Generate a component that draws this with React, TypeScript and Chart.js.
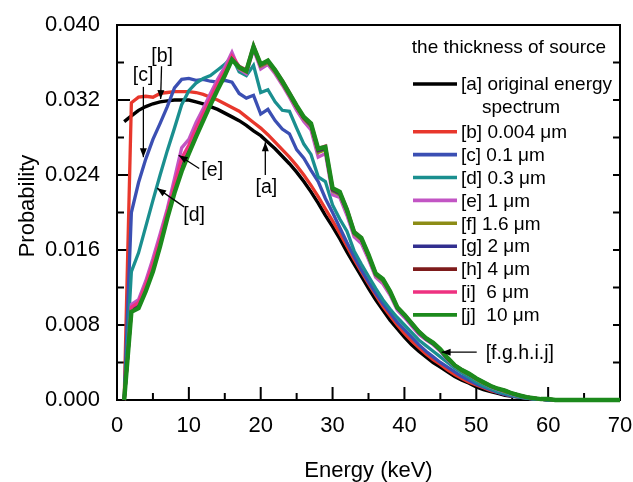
import React, { useEffect, useRef } from 'react';
import { Chart, registerables } from 'chart.js';

Chart.register(...registerables);

const FONT = '"Liberation Sans", Arial, Helvetica, sans-serif';

// Energy (keV)
const energies = [
  1, 2, 3, 4, 5, 6, 7, 8, 9, 10,
  11, 12, 13, 14, 15, 16, 17, 18, 19, 20,
  21, 22, 23, 24, 25, 26, 27, 28, 29, 30,
  31, 32, 33, 34, 35, 36, 37, 38, 39, 40,
  41, 42, 43, 44, 45, 46, 47, 48, 49, 50,
  51, 52, 53, 54, 55, 56, 57, 58, 59, 60,
  61, 62, 63, 64, 65, 66, 67, 68, 69, 70,
];

// [a] original energy spectrum
const seriesA = [
  0.0297, 0.0303, 0.0309, 0.0313, 0.0316, 0.0318, 0.0319, 0.0320, 0.0320, 0.0320,
  0.0318, 0.0316, 0.0313, 0.0310, 0.0306, 0.0302, 0.0298, 0.0293, 0.0287, 0.0282,
  0.0275, 0.0268, 0.0260, 0.0252, 0.0243, 0.0233, 0.0222, 0.0210, 0.0197, 0.0185,
  0.0172, 0.0158, 0.0145, 0.0132, 0.0119, 0.0107, 0.0096, 0.0085, 0.0076, 0.0067,
  0.0059, 0.0052, 0.0046, 0.0040, 0.0035, 0.0030, 0.0025, 0.0021, 0.0018, 0.0014,
  0.0011, 0.0009, 0.0007, 0.0005, 0.0004, 0.0003, 0.0002, 0.0001, 0.0001, 0,
  0, 0, 0, 0, 0, 0, 0, 0, 0, 0,
];
// [b] 0.004 um
const seriesB = [
  0, 0.0317, 0.0323, 0.0324, 0.0323, 0.0327, 0.0328, 0.0329, 0.0329, 0.0329,
  0.0328, 0.0326, 0.0323, 0.0320, 0.0316, 0.0312, 0.0308, 0.0302, 0.0296, 0.0290,
  0.0283, 0.0275, 0.0267, 0.0259, 0.0250, 0.0240, 0.0229, 0.0217, 0.0204, 0.0191,
  0.0178, 0.0164, 0.0150, 0.0137, 0.0124, 0.0112, 0.0100, 0.0090, 0.0080, 0.0071,
  0.0063, 0.0056, 0.0049, 0.0043, 0.0038, 0.0032, 0.0027, 0.0023, 0.0019, 0.0016,
  0.0013, 0.0010, 0.0008, 0.0006, 0.0004, 0.0003, 0.0002, 0.0001, 0.0001, 0,
  0, 0, 0, 0, 0, 0, 0, 0, 0, 0,
];
// [c] 0.1 um
const seriesC = [
  0, 0.0200, 0.0232, 0.0257, 0.0278, 0.0295, 0.0313, 0.0333, 0.0342, 0.0343,
  0.0341, 0.0342, 0.0340, 0.0339, 0.0341, 0.0339, 0.0327, 0.0322, 0.0325, 0.0305,
  0.0310, 0.0298, 0.0289, 0.0284, 0.0267, 0.0258, 0.0245, 0.0233, 0.0215, 0.0200,
  0.0184, 0.0168, 0.0153, 0.0139, 0.0126, 0.0114, 0.0103, 0.0093, 0.0083, 0.0075,
  0.0067, 0.0059, 0.0052, 0.0046, 0.0040, 0.0035, 0.0030, 0.0025, 0.0021, 0.0017,
  0.0014, 0.0011, 0.0008, 0.0006, 0.0004, 0.0003, 0.0002, 0.0001, 0.0001, 0,
  0, 0, 0, 0, 0, 0, 0, 0, 0, 0,
];
// [d] 0.3 um
const seriesD = [
  0, 0.0137, 0.0157, 0.0185, 0.0213, 0.0240, 0.0266, 0.0290, 0.0315, 0.0330,
  0.0338, 0.0343, 0.0346, 0.0352, 0.0358, 0.0366, 0.0350, 0.0346, 0.0357, 0.0328,
  0.0331, 0.0318, 0.0309, 0.0308, 0.0290, 0.0273, 0.0262, 0.0238, 0.0233, 0.0208,
  0.0193, 0.0180, 0.0159, 0.0145, 0.0132, 0.0119, 0.0107, 0.0097, 0.0088, 0.0080,
  0.0072, 0.0064, 0.0058, 0.0052, 0.0046, 0.0040, 0.0034, 0.0029, 0.0024, 0.0019,
  0.0015, 0.0012, 0.0009, 0.0007, 0.0005, 0.0003, 0.0002, 0.0001, 0.0001, 0,
  0, 0, 0, 0, 0, 0, 0, 0, 0, 0,
];
// [e] 1 um
const seriesE = [
  0, 0.0102, 0.0107, 0.0127, 0.0151, 0.0177, 0.0204, 0.0236, 0.0269, 0.0278,
  0.0296, 0.0311, 0.0327, 0.0342, 0.0355, 0.0371, 0.0353, 0.0348, 0.0374, 0.0353,
  0.0358, 0.0348, 0.0336, 0.0323, 0.0309, 0.0297, 0.0288, 0.0259, 0.0263, 0.0219,
  0.0216, 0.0197, 0.0174, 0.0167, 0.0150, 0.0131, 0.0124, 0.0112, 0.0096, 0.0088,
  0.0079, 0.0070, 0.0064, 0.0059, 0.0052, 0.0043, 0.0036, 0.0031, 0.0027, 0.0022,
  0.0018, 0.0014, 0.0011, 0.0009, 0.0006, 0.0004, 0.0003, 0.0002, 0.0001, 0.0001,
  0, 0, 0, 0, 0, 0, 0, 0, 0, 0,
];
// [f] 1.6 um
const seriesF = [
  0, 0.0097, 0.0101, 0.0119, 0.0141, 0.0168, 0.0197, 0.0225, 0.0250, 0.0267,
  0.0285, 0.0301, 0.0318, 0.0334, 0.0348, 0.0364, 0.0354, 0.0350, 0.0376, 0.0356,
  0.0360, 0.0350, 0.0338, 0.0325, 0.0312, 0.0300, 0.0292, 0.0264, 0.0267, 0.0223,
  0.0219, 0.0201, 0.0177, 0.0171, 0.0153, 0.0133, 0.0127, 0.0114, 0.0098, 0.0090,
  0.0081, 0.0072, 0.0065, 0.0060, 0.0053, 0.0044, 0.0037, 0.0031, 0.0027, 0.0022,
  0.0018, 0.0015, 0.0012, 0.0009, 0.0007, 0.0005, 0.0003, 0.0002, 0.0001, 0.0001,
  0, 0, 0, 0, 0, 0, 0, 0, 0, 0,
];
// [g] 2 um
const seriesG = [
  0, 0.0096, 0.0100, 0.0118, 0.0139, 0.0166, 0.0196, 0.0223, 0.0247, 0.0265,
  0.0283, 0.0300, 0.0317, 0.0333, 0.0347, 0.0364, 0.0355, 0.0351, 0.0376, 0.0357,
  0.0361, 0.0351, 0.0339, 0.0326, 0.0313, 0.0301, 0.0293, 0.0266, 0.0268, 0.0224,
  0.0220, 0.0202, 0.0178, 0.0172, 0.0154, 0.0134, 0.0128, 0.0115, 0.0098, 0.0090,
  0.0081, 0.0072, 0.0065, 0.0060, 0.0053, 0.0044, 0.0037, 0.0032, 0.0027, 0.0023,
  0.0019, 0.0015, 0.0012, 0.0010, 0.0007, 0.0005, 0.0003, 0.0002, 0.0001, 0.0001,
  0, 0, 0, 0, 0, 0, 0, 0, 0, 0,
];
// [h] 4 um
const seriesH = [
  0, 0.0095, 0.0099, 0.0117, 0.0138, 0.0165, 0.0195, 0.0222, 0.0245, 0.0264,
  0.0282, 0.0299, 0.0316, 0.0332, 0.0346, 0.0363, 0.0355, 0.0351, 0.0377, 0.0358,
  0.0361, 0.0352, 0.0340, 0.0327, 0.0313, 0.0301, 0.0294, 0.0267, 0.0269, 0.0225,
  0.0221, 0.0203, 0.0179, 0.0172, 0.0154, 0.0135, 0.0129, 0.0116, 0.0099, 0.0091,
  0.0082, 0.0073, 0.0066, 0.0061, 0.0054, 0.0045, 0.0037, 0.0032, 0.0028, 0.0023,
  0.0019, 0.0015, 0.0012, 0.0010, 0.0007, 0.0005, 0.0003, 0.0002, 0.0001, 0.0001,
  0, 0, 0, 0, 0, 0, 0, 0, 0, 0,
];
// [i] 6 um
const seriesI = [
  0, 0.0099, 0.0104, 0.0123, 0.0146, 0.0172, 0.0200, 0.0230, 0.0258, 0.0272,
  0.0290, 0.0306, 0.0322, 0.0338, 0.0351, 0.0367, 0.0356, 0.0352, 0.0378, 0.0357,
  0.0362, 0.0352, 0.0341, 0.0328, 0.0314, 0.0302, 0.0295, 0.0268, 0.0271, 0.0226,
  0.0222, 0.0204, 0.0180, 0.0173, 0.0155, 0.0135, 0.0129, 0.0116, 0.0099, 0.0091,
  0.0082, 0.0073, 0.0066, 0.0061, 0.0054, 0.0045, 0.0037, 0.0032, 0.0028, 0.0023,
  0.0019, 0.0015, 0.0012, 0.0010, 0.0007, 0.0005, 0.0003, 0.0002, 0.0001, 0.0001,
  0, 0, 0, 0, 0, 0, 0, 0, 0, 0,
];
// [j] 10 um
const seriesJ = [
  0, 0.0094, 0.0098, 0.0116, 0.0137, 0.0164, 0.0194, 0.0221, 0.0244, 0.0263,
  0.0281, 0.0298, 0.0315, 0.0331, 0.0346, 0.0363, 0.0355, 0.0351, 0.0377, 0.0358,
  0.0362, 0.0352, 0.0340, 0.0327, 0.0314, 0.0302, 0.0295, 0.0268, 0.0270, 0.0226,
  0.0222, 0.0203, 0.0179, 0.0173, 0.0155, 0.0135, 0.0129, 0.0116, 0.0099, 0.0091,
  0.0082, 0.0073, 0.0066, 0.0061, 0.0054, 0.0045, 0.0037, 0.0032, 0.0028, 0.0023,
  0.0019, 0.0015, 0.0012, 0.0010, 0.0007, 0.0005, 0.0003, 0.0002, 0.0001, 0.0001,
  0, 0, 0, 0, 0, 0, 0, 0, 0, 0,
];

const seriesNames = [
  '[a] original energy spectrum',
  '[b] 0.004 μm',
  '[c] 0.1 μm',
  '[d] 0.3 μm',
  '[e] 1 μm',
  '[f] 1.6 μm',
  '[g] 2 μm',
  '[h] 4 μm',
  '[i]  6 μm',
  '[j]  10 μm',
];
const legendLines = [
  ['[a] original energy', 'spectrum'],
  ['[b] 0.004 μm'],
  ['[c] 0.1 μm'],
  ['[d] 0.3 μm'],
  ['[e] 1 μm'],
  ['[f] 1.6 μm'],
  ['[g] 2 μm'],
  ['[h] 4 μm'],
  ['[i]  6 μm'],
  ['[j]  10 μm'],
];
const legendTitle = 'the thickness of source';
const xTitle = 'Energy (keV)';
const yTitle = 'Probability';

const seriesColors = [
  '#000000', '#e8372c', '#3b4fb3', '#1a8f8f', '#c255c4',
  '#8c8c16', '#322f8f', '#7e1b1b', '#ee3180', '#1c8a1c',
];
const seriesWidths = [3.4, 3.3, 3.3, 3.3, 3.3, 3.3, 3.3, 3.3, 3.3, 4.4];

const xMajorTicks = [0, 10, 20, 30, 40, 50, 60, 70];
const xMinorTicks = [5, 15, 25, 35, 45, 55, 65];
const yMajorTicks = [0, 0.008, 0.016, 0.024, 0.032, 0.04];
const yMinorTicks = [0.004, 0.012, 0.02, 0.028, 0.036];

// annotation: label, label position, arrow start, arrow tip (data coordinates)
const annotations = [
  { text: '[b]', tx: 6.28, ty: 0.0366, x1: 6.2, y1: 0.0356, x2: 6.07, y2: 0.0321 },
  { text: '[c]', tx: 3.63, ty: 0.0346, x1: 3.67, y1: 0.0334, x2: 3.67, y2: 0.0259 },
  { text: '[e]', tx: 13.25, ty: 0.0245, x1: 11.44, y1: 0.0247, x2: 8.58, y2: 0.0261 },
  { text: '[d]', tx: 10.74, ty: 0.0197, x1: 9.34, y1: 0.0206, x2: 5.58, y2: 0.0226 },
  { text: '[a]', tx: 20.78, ty: 0.0227, x1: 20.64, y1: 0.024, x2: 20.64, y2: 0.0275 },
  { text: '[f.g.h.i.j]', tx: 56.06, ty: 0.0049, x1: 50.06, y1: 0.0051, x2: 45.18, y2: 0.0051 },
];

function drawArrow(ctx: CanvasRenderingContext2D, x1: number, y1: number, x2: number, y2: number) {
  ctx.beginPath();
  ctx.moveTo(x1, y1);
  ctx.lineTo(x2, y2);
  ctx.stroke();
  const ang = Math.atan2(y2 - y1, x2 - x1);
  const L = 9;
  const W = 3.5;
  const bx = x2 - L * Math.cos(ang);
  const by = y2 - L * Math.sin(ang);
  ctx.beginPath();
  ctx.moveTo(x2, y2);
  ctx.lineTo(bx + W * Math.sin(ang), by - W * Math.cos(ang));
  ctx.lineTo(bx - W * Math.sin(ang), by + W * Math.cos(ang));
  ctx.closePath();
  ctx.fill();
}

const decorPlugin = {
  id: 'decor',
  beforeDatasetsDraw(chart: any) {
    const { ctx, chartArea } = chart;
    const xs = chart.scales.x;
    const ys = chart.scales.y;
    const { left, right, top, bottom } = chartArea;
    ctx.save();
    ctx.strokeStyle = '#000';
    ctx.lineWidth = 2;
    ctx.strokeRect(left, top, right - left, bottom - top);
    ctx.beginPath();
    xMajorTicks.forEach((v) => {
      const p = xs.getPixelForValue(v);
      ctx.moveTo(p, bottom);
      ctx.lineTo(p, bottom - 13);
    });
    xMinorTicks.forEach((v) => {
      const p = xs.getPixelForValue(v);
      ctx.moveTo(p, bottom);
      ctx.lineTo(p, bottom - 7);
    });
    yMajorTicks.forEach((v) => {
      const p = ys.getPixelForValue(v);
      ctx.moveTo(left, p);
      ctx.lineTo(left + 13, p);
      ctx.moveTo(right, p);
      ctx.lineTo(right - 7, p);
    });
    yMinorTicks.forEach((v) => {
      const p = ys.getPixelForValue(v);
      ctx.moveTo(left, p);
      ctx.lineTo(left + 7, p);
      ctx.moveTo(right, p);
      ctx.lineTo(right - 7, p);
    });
    ctx.stroke();
    ctx.restore();
  },
  afterDraw(chart: any) {
    const { ctx } = chart;
    const xs = chart.scales.x;
    const ys = chart.scales.y;
    ctx.save();
    // y-axis title
    ctx.fillStyle = '#000';
    ctx.font = `22px ${FONT}`;
    ctx.textAlign = 'center';
    ctx.textBaseline = 'middle';
    ctx.save();
    ctx.translate(28, 206);
    ctx.rotate(-Math.PI / 2);
    ctx.fillText(yTitle, 0, 0);
    ctx.restore();
    // annotations
    ctx.fillStyle = '#000';
    ctx.strokeStyle = '#000';
    ctx.lineWidth = 1.3;
    ctx.font = `19.5px ${FONT}`;
    annotations.forEach((a) => {
      drawArrow(
        ctx,
        xs.getPixelForValue(a.x1),
        ys.getPixelForValue(a.y1),
        xs.getPixelForValue(a.x2),
        ys.getPixelForValue(a.y2),
      );
      ctx.fillText(a.text, xs.getPixelForValue(a.tx), ys.getPixelForValue(a.ty));
    });
    // legend
    ctx.font = `19px ${FONT}`;
    ctx.textAlign = 'center';
    ctx.fillText(legendTitle, 509, 48);
    ctx.textAlign = 'left';
    const rowY = [84, 131.7, 154.6, 177.5, 200.4, 223.3, 246.2, 269.1, 292, 314.9];
    legendLines.forEach((lines, i) => {
      const y = rowY[i];
      ctx.strokeStyle = seriesColors[i];
      ctx.lineWidth = 3.6;
      ctx.beginPath();
      ctx.moveTo(413, y);
      ctx.lineTo(457, y);
      ctx.stroke();
      ctx.fillStyle = '#000';
      ctx.fillText(lines[0], 461, y + 1);
      if (lines[1]) ctx.fillText(lines[1], 482, y + 24);
    });
    ctx.restore();
  },
};

export default function App() {
  const ref = useRef<HTMLCanvasElement>(null);
  useEffect(() => {
    const canvas = ref.current;
    if (!canvas) return;
    const allSeries = [seriesA, seriesB, seriesC, seriesD, seriesE, seriesF, seriesG, seriesH, seriesI, seriesJ];
    const datasets = allSeries.map((vals, i) => ({
      label: seriesNames[i],
      data: energies.map((e, k) => ({ x: e, y: vals[k] })),
      borderColor: seriesColors[i],
      backgroundColor: seriesColors[i],
      borderWidth: seriesWidths[i],
      pointRadius: 0,
      pointHoverRadius: 0,
      fill: false,
      tension: 0,
      clip: false as any,
      order: 10 - i,
    }));
    const chart = new Chart(canvas, {
      type: 'line',
      data: { datasets },
      options: {
        animation: false,
        responsive: false,
        devicePixelRatio: 1,
        events: [],
        layout: { padding: { left: 0, right: 13, top: 25, bottom: 0 } },
        plugins: {
          legend: { display: false },
          title: { display: false },
          tooltip: { enabled: false },
        },
        scales: {
          x: {
            type: 'linear',
            min: 0,
            max: 70,
            grid: { display: false, drawTicks: false },
            border: { display: false },
            ticks: {
              stepSize: 10,
              padding: 13,
              color: '#000',
              font: { family: FONT, size: 22 },
            },
            title: {
              display: true,
              text: xTitle,
              color: '#000',
              font: { family: FONT, size: 22, lineHeight: 1 },
              padding: { top: 0, bottom: 0 },
            },
            afterFit: (s: any) => {
              s.height = 82;
              s.paddingLeft = 0;
              s.paddingRight = 0;
            },
          },
          y: {
            type: 'linear',
            min: 0,
            max: 0.04,
            grid: { display: false, drawTicks: false },
            border: { display: false },
            ticks: {
              stepSize: 0.008,
              padding: 17,
              color: '#000',
              font: { family: FONT, size: 22 },
              callback: (v: any) => Number(v).toFixed(3),
            },
            title: { display: false },
            afterFit: (s: any) => {
              s.width = 117;
              s.paddingTop = 0;
              s.paddingBottom = 0;
            },
          },
        },
      },
      plugins: [decorPlugin],
    });
    return () => chart.destroy();
  }, []);
  return (
    <div style={{ position: 'fixed', left: 0, top: 0, width: 633, height: 482, background: '#fff' }}>
      <canvas ref={ref} width={633} height={482} style={{ display: 'block', width: 633, height: 482 }} />
    </div>
  );
}
